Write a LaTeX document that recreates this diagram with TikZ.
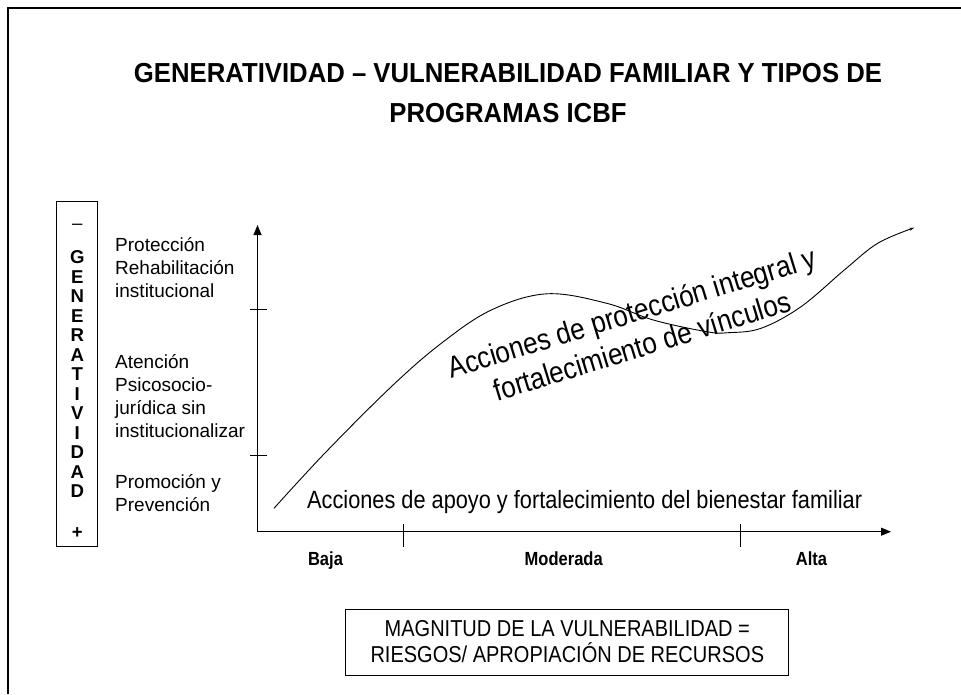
\documentclass[tikz,border=0pt]{standalone}
\usepackage{fontspec}
\setmainfont{Liberation Sans}
\newfontfamily\narrowfont[FakeStretch=0.87]{Liberation Sans}
\newfontfamily\titlefont[FakeStretch=0.935]{Liberation Sans}
\usetikzlibrary{arrows.meta}
\begin{document}
\begin{tikzpicture}[x=1pt,y=-1pt,
		axis/.style={line width=1pt,-{Triangle[length=10pt,width=8pt]}},
		level/.style={anchor=north west,inner sep=0pt,align=left,font=\fontsize{19}{23}\selectfont},
		grade/.style={anchor=base,inner sep=0pt,font=\narrowfont\bfseries\fontsize{19}{22}\selectfont}]
		\useasboundingbox (0,0) rectangle (961,694);
		\draw[line width=1.5pt](8,694)--(8,8)--(961,8);
		\node[anchor=north,inner sep=0pt,align=center,font=\titlefont\bfseries\fontsize{27.5}{40}\selectfont] (title) at (508,63.3) {GENERATIVIDAD – VULNERABILIDAD FAMILIAR Y TIPOS DE\\PROGRAMAS ICBF};
		\node[draw,line width=1pt,minimum width=41pt,minimum height=345pt,inner sep=0pt] (gen) at (77.2,374.2) {};
		\node[anchor=north,inner sep=0pt,align=center,font=\bfseries\fontsize{18.6}{19.5}\selectfont] (genlbl) at (77.3,224) {{\mdseries –}\\[14.7pt]G\\E\\N\\E\\R\\A\\T\\I\\V\\I\\D\\A\\D\\[21.6pt]+};
		\node[level] (prot) at (115,237.7) {Protección\\Rehabilitación\\institucional};
		\node[level] (aten) at (115,354.3) {Atención\\Psicosocio-\\jurídica sin\\institucionalizar};
		\node[level] (prom) at (115,474.3) {Promoción y\\Prevención};
		\coordinate (o) at (257.5,531.7);
		\coordinate (ytop) at (257.5,225);
		\coordinate (xend) at (891,531.7);
		\draw[axis](o)--(ytop);
		\draw[axis](o)--(xend);
		\draw[line width=0.8pt](250,309)--(266.5,309);
		\draw[line width=0.8pt](250,455)--(266.5,455);
		\draw[line width=0.8pt](403,524)--(403,547);
		\draw[line width=0.8pt](740,524)--(740,547);
		\draw[line width=0.9pt,-{Stealth[length=5pt,width=3pt]}] plot[smooth,tension=0.6] coordinates {(274,508.3) (324.7,453.3) (391.3,386.7) (441.3,343.3) (491.3,310) (547,293.8) (606.7,303.3) (653.3,320) (706.7,331.7) (728,332.7) (761,328.3) (801,306.7) (844.3,270) (877.7,243.3) (914.3,227.7)};
		\node[anchor=north,inner sep=0pt,align=center,rotate=17,font=\narrowfont\fontsize{30}{35}\selectfont] (vinculos) at (628.4,301.3) {Acciones de protección integral y\\fortalecimiento de vínculos};
		\node[anchor=base west,inner sep=0pt,font=\narrowfont\fontsize{25}{30}\selectfont] (apoyo) at (307,508) {Acciones de apoyo y fortalecimiento del bienestar familiar};
		\node[grade] (baja) at (325.5,565) {Baja};
		\node[grade] (moderada) at (563.7,565) {Moderada};
		\node[grade] (alta) at (811.5,565) {Alta};
		\node[draw,line width=1pt,minimum width=442.7pt,minimum height=66pt,inner sep=0pt,align=center,font=\narrowfont\fontsize{23}{26}\selectfont] (magnitud) at (567.3,642) {MAGNITUD DE LA VULNERABILIDAD =\\RIESGOS/ APROPIACIÓN DE RECURSOS};
	    \end{tikzpicture}
\end{document}
